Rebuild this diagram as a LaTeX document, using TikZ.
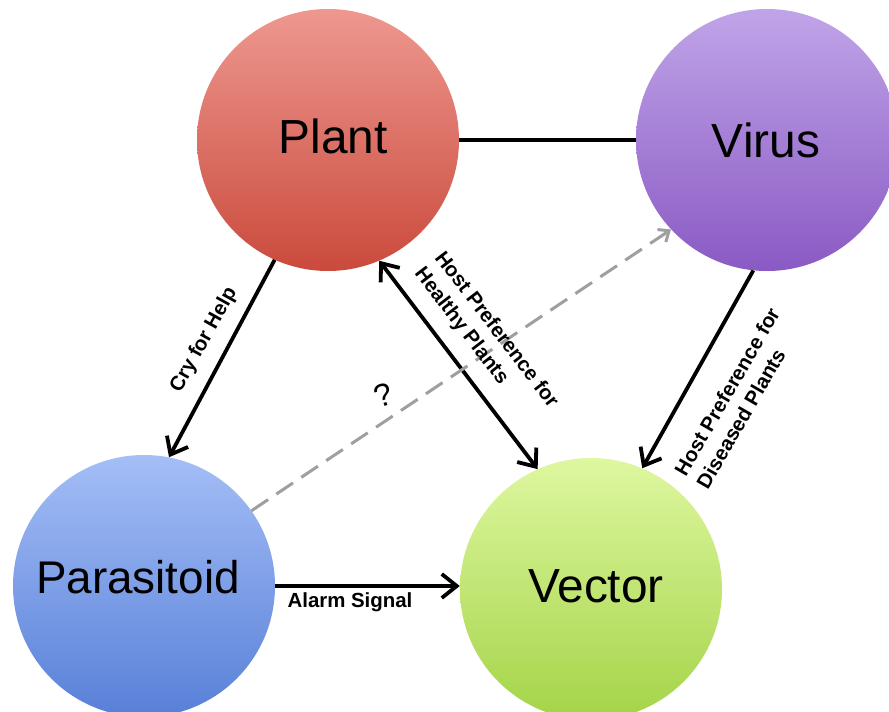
\documentclass[tikz,border=0pt]{standalone}
\usepackage{fontspec}
\setmainfont{Liberation Sans}
\usetikzlibrary{arrows.meta}
\begin{document}
\begin{tikzpicture}[x=1bp,y=-1bp,
  bubble/.style={circle, minimum size=262bp, inner sep=0pt, draw=none, shading=axis},
  title/.style={font=\fontsize{48}{56}\selectfont, inner sep=0pt},
  lbl/.style={font=\bfseries\fontsize{20.5}{25.5}\selectfont, inner sep=0pt, align=left},
  link/.style={line width=3.8bp, black},
  barb/.tip={Straight Barb[length=15bp,width=24bp]},
  smallbarb/.tip={Straight Barb[length=9bp,width=15bp]},
  guess/.style={line width=3bp, gray!75, dash pattern=on 20bp off 10bp}
]
\clip (0,0) rectangle (889,712);
\fill[white] (0,0) rectangle (889,712);

% the four partners
\node[bubble, top color={rgb,255:red,238;green,152;blue,144}, bottom color={rgb,255:red,202;green,74;blue,60}] (plant) at (328,140) {};
\node[bubble, top color={rgb,255:red,192;green,164;blue,232}, bottom color={rgb,255:red,138;green,90;blue,196}] (virus) at (767,140) {};
\node[bubble, top color={rgb,255:red,164;green,190;blue,246}, bottom color={rgb,255:red,88;green,128;blue,216}] (para) at (144,586) {};
\node[bubble, top color={rgb,255:red,222;green,247;blue,160}, bottom color={rgb,255:red,164;green,212;blue,72}] (vector) at (591,589) {};

\node[title] (plantname) at (333,136) {Plant};
\node[title] (virusname) at (766,140) {Virus};
\node[title, font=\fontsize{46}{54}\selectfont] (paraname) at (138,577) {Parasitoid};
\node[title] (vectorname) at (596,586) {Vector};

% interactions
\draw[link] (plant.east) -- (virus.west);
\draw[link, -barb] (plant.-114.6) -- (para.79.8);
\draw[link, barb-barb] (plant.-67.8) -- (vector.114.7);
\draw[link, -barb] (virus.-96.7) -- (vector.67);
\draw[link, -barb] (para.east) -- (para.east -| vector.west);
\draw[guess, -{smallbarb[gray!75]}] (para.35.8) -- (virus.223.8);

% edge labels
\node[lbl, rotate=61] (cry) at (204,340) {Cry for Help};
\node[lbl, rotate=-52.5] (healthy) at (486,338) {Host Preference for\\Healthy Plants};
\node[lbl, rotate=60] (diseased) at (738,398) {Host Preference for\\Diseased Plants};
\node[lbl] (alarm) at (350,602) {Alarm Signal};
\node[font=\fontsize{32}{36}\selectfont, inner sep=0pt, rotate=18] (unknown) at (383,395) {?};
\end{tikzpicture}
\end{document}
